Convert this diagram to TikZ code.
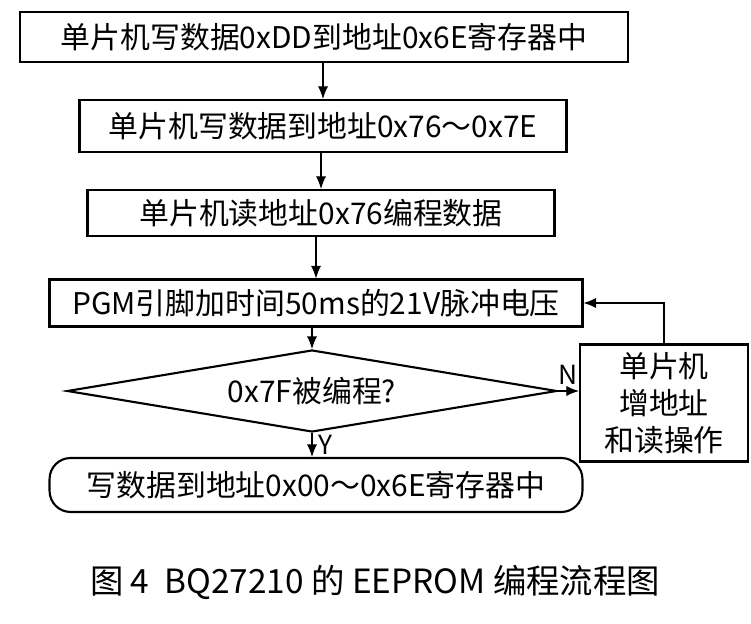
\documentclass[tikz,border=0pt]{standalone}
\usepackage{fontspec}
\setmainfont{Noto Sans CJK SC}
\usetikzlibrary{positioning}
\usetikzlibrary{arrows.meta}
\usetikzlibrary{shapes.geometric}
\tikzset{%
	>={Latex[width=2mm,length=2.5mm]},
	% Specifications for style of nodes:
	base/.style = {rectangle, draw=black, line width=1.2pt, inner sep=0pt, text centered, font=\fontsize{17}{21}\selectfont},
	process/.style = {base},
	decision/.style = {base, diamond, aspect=6.3},
	terminal/.style = {base, rounded corners=12pt},
}
\begin{document}
\begin{tikzpicture}[x=0.02cm,y=-0.02cm]
		\useasboundingbox (0,0) rectangle (751,624);
		\node (Write) [process, minimum width=12.16cm, minimum height=1cm] at (324,37) {单片机写数据0xDD到地址0x6E寄存器中};
		\node (Range) [process, minimum width=9.74cm, minimum height=1.04cm] at (323,126) {单片机写数据到地址0x76～0x7E};
		\node (Read) [process, minimum width=9.34cm, minimum height=0.92cm] at (321,213) {单片机读地址0x76编程数据};
		\node (Pulse) [process, minimum width=10.66cm, minimum height=0.94cm] at (316,303) {PGM引脚加时间50ms的21V脉冲电压};
		\node (Check) [decision, minimum width=9.8cm, minimum height=1.64cm] at (312,391) {0x7F被编程?};
		\node (Inc) [process, minimum width=3.36cm, minimum height=2.34cm, align=center] at (664,403) {单片机\\增地址\\和读操作};
		\node (Done) [terminal, minimum width=10.66cm, minimum height=1.08cm] at (316,485) {写数据到地址0x00～0x6E寄存器中};
		\node (Caption) [font=\fontsize{19}{22}\selectfont] at (375,582) {图 4\ \ BQ27210 的 EEPROM 编程流程图};

		\draw [semithick,->] (Write.south -| Range) -- (Range);
		\draw [semithick,->] (Range.south -| Read) -- (Read);
		\draw [semithick,->] (Read.south -| Pulse) -- (Pulse);
		\draw [semithick,->] (Pulse.south -| Check) -- (Check);
		\draw [semithick,->] (Check.south) -- node[right, font=\fontsize{15}{18}\selectfont] {Y} (Check.south |- Done.north);
		\draw [semithick,->] (Check.east) -- node[above, font=\fontsize{15}{18}\selectfont] {N} (Inc.west |- Check.east);
		\draw [semithick,->] (Inc.north) |- (Pulse.east);
     \end{tikzpicture}
\end{document}
